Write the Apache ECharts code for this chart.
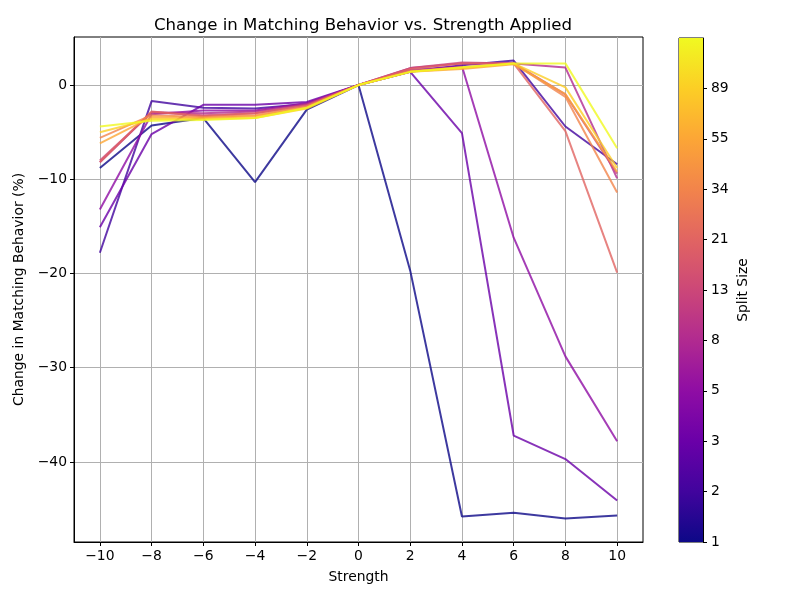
<!DOCTYPE html>
<html>
<head>
<meta charset="utf-8">
<script src="https://cdn.jsdelivr.net/npm/echarts@6/dist/echarts.min.js"></script>
<style>html,body{margin:0;padding:0;background:#fff;}#c{width:800px;height:600px;}</style>
</head>
<body>
<div id="c"></div>
<script>
const strengths = [-10, -8, -6, -4, -2, 0, 2, 4, 6, 8, 10];
const splitSizes = [1, 2, 3, 5, 8, 13, 21, 34, 55, 89, 144];
const xTicks = [-10, -8, -6, -4, -2, 0, 2, 4, 6, 8, 10];
const yTicks = [-40, -30, -20, -10, 0];
const colorbarTicks = [1, 2, 3, 5, 8, 13, 21, 34, 55, 89];

const split1   = [-8.8, -4.3, -3.5, -10.3, -2.6, 0, -19.7, -45.8, -45.4, -46.0, -45.7];
const split2   = [-17.8, -1.7, -2.4, -2.5, -2.0, 0, 1.4, 2.1, 2.6, -4.4, -8.4];
const split3   = [-15.1, -5.2, -2.1, -2.1, -1.8, 0, 1.4, -5.1, -37.2, -39.7, -44.1];
const split5   = [-13.2, -3.1, -2.7, -2.7, -1.9, 0, 1.6, 2.0, -16.2, -28.8, -37.8];
const split8   = [-8.2, -2.9, -3.0, -2.8, -2.0, 0, 1.8, 2.3, 2.3, 1.85, -9.9];
const split13  = [-8.0, -2.9, -3.2, -3.0, -2.1, 0, 1.8, 2.4, 2.3, -1.0, -9.4];
const split21  = [-8.2, -2.8, -3.3, -3.0, -2.2, 0, 1.7, 2.3, 2.3, -4.9, -19.9];
const split34  = [-5.6, -3.2, -3.4, -3.2, -2.3, 0, 1.5, 1.9, 2.3, -1.25, -11.4];
const split55  = [-6.2, -3.4, -3.5, -3.3, -2.4, 0, 1.4, 1.7, 2.2, -0.95, -9.2];
const split89  = [-5.0, -3.6, -3.6, -3.5, -2.5, 0, 1.4, 1.8, 2.3, -0.25, -8.8];
const split144 = [-4.4, -3.8, -3.7, -3.5, -2.4, 0, 1.4, 1.9, 2.3, 2.3, -6.7];

const seriesValues = [split1, split2, split3, split5, split8, split13, split21, split34, split55, split89, split144];
const plasma = ['#0d0887', '#41049d', '#6a00a8', '#8f0da4', '#b12a90', '#cc4778', '#e16462', '#f2844b', '#fca636', '#fcce25', '#f0f921'];

const font = 'DejaVu Sans';
const fs = 13.9;
const minus = v => (v < 0 ? '\u2212' + Math.abs(v) : String(v));

const lineSeries = seriesValues.map((vals, i) => ({
  name: 'Split ' + splitSizes[i],
  type: 'line',
  xAxisIndex: 0, yAxisIndex: 0,
  data: strengths.map((s, j) => [s, vals[j]]),
  symbol: 'none',
  lineStyle: { color: plasma[i], width: 2, opacity: 0.8 },
  itemStyle: { color: plasma[i] },
  silent: true,
  z: 2 + i
}));

const chart = echarts.init(document.getElementById('c'), null, { renderer: 'canvas' });
chart.setOption({
  backgroundColor: '#fff',
  animation: false,
  textStyle: { fontFamily: font },
  title: {
    text: 'Change in Matching Behavior vs. Strength Applied',
    left: 358, top: 12, textAlign: 'center',
    textStyle: { fontFamily: font, fontSize: 16.6, fontWeight: 'normal', color: '#000' }
  },
  grid: [
    { left: 74, top: 37, width: 569, height: 505, show: true, borderColor: '#000', borderWidth: 1, backgroundColor: 'transparent' },
    { left: 679, top: 38, width: 24, height: 504, show: true, borderColor: '#000', borderWidth: 1 }
  ],
  xAxis: [
    {
      gridIndex: 0, type: 'value', min: -11, max: 11,
      name: 'Strength', nameLocation: 'middle', nameGap: 28,
      nameTextStyle: { fontFamily: font, fontSize: fs, color: '#000' },
      axisLine: { show: true, onZero: false, lineStyle: { color: '#000', width: 1 } },
      axisTick: { show: true, customValues: xTicks, length: 4, lineStyle: { color: '#000' } },
      axisLabel: { customValues: xTicks, formatter: minus, fontFamily: font, fontSize: fs, color: '#000', margin: 7 },
      splitLine: { show: true, lineStyle: { color: '#b0b0b0', width: 1 } }
    },
    {
      gridIndex: 1, type: 'category', data: ['cb'], show: false,
      axisLine: { show: false }, axisTick: { show: false }, axisLabel: { show: false }
    }
  ],
  yAxis: [
    {
      gridIndex: 0, type: 'value', min: -48.5, max: 5.1,
      name: 'Change in Matching Behavior (%)', nameLocation: 'middle', nameGap: 44, nameRotate: 90,
      nameTextStyle: { fontFamily: font, fontSize: fs, color: '#000' },
      axisLine: { show: true, onZero: false, lineStyle: { color: '#000', width: 1 } },
      axisTick: { show: true, customValues: yTicks, length: 4, lineStyle: { color: '#000' } },
      axisLabel: { customValues: yTicks, formatter: minus, fontFamily: font, fontSize: fs, color: '#000', margin: 7 },
      splitLine: { show: true, lineStyle: { color: '#b0b0b0', width: 1 } }
    },
    {
      gridIndex: 1, type: 'value', min: 0, max: 10, position: 'right',
      name: 'Split Size', nameLocation: 'middle', nameGap: 33, nameRotate: 90,
      nameTextStyle: { fontFamily: font, fontSize: fs, color: '#000' },
      axisLine: { show: true, onZero: false, lineStyle: { color: '#000', width: 1 } },
      axisTick: { show: true, customValues: colorbarTicks.map((v, i) => i), length: 4, lineStyle: { color: '#000' } },
      axisLabel: {
        customValues: colorbarTicks.map((v, i) => i),
        formatter: v => String(colorbarTicks[Math.round(v)]),
        fontFamily: font, fontSize: fs, color: '#000', margin: 8
      },
      splitLine: { show: false }
    }
  ],
  series: lineSeries.concat([{
    type: 'bar', xAxisIndex: 1, yAxisIndex: 1,
    data: [splitSizes.length - 1],
    barWidth: '100%', silent: true,
    itemStyle: {
      color: new echarts.graphic.LinearGradient(0, 1, 0, 0,
        plasma.map((c, i) => ({ offset: i / (plasma.length - 1), color: c })))
    }
  }])
});
</script>
</body>
</html>
